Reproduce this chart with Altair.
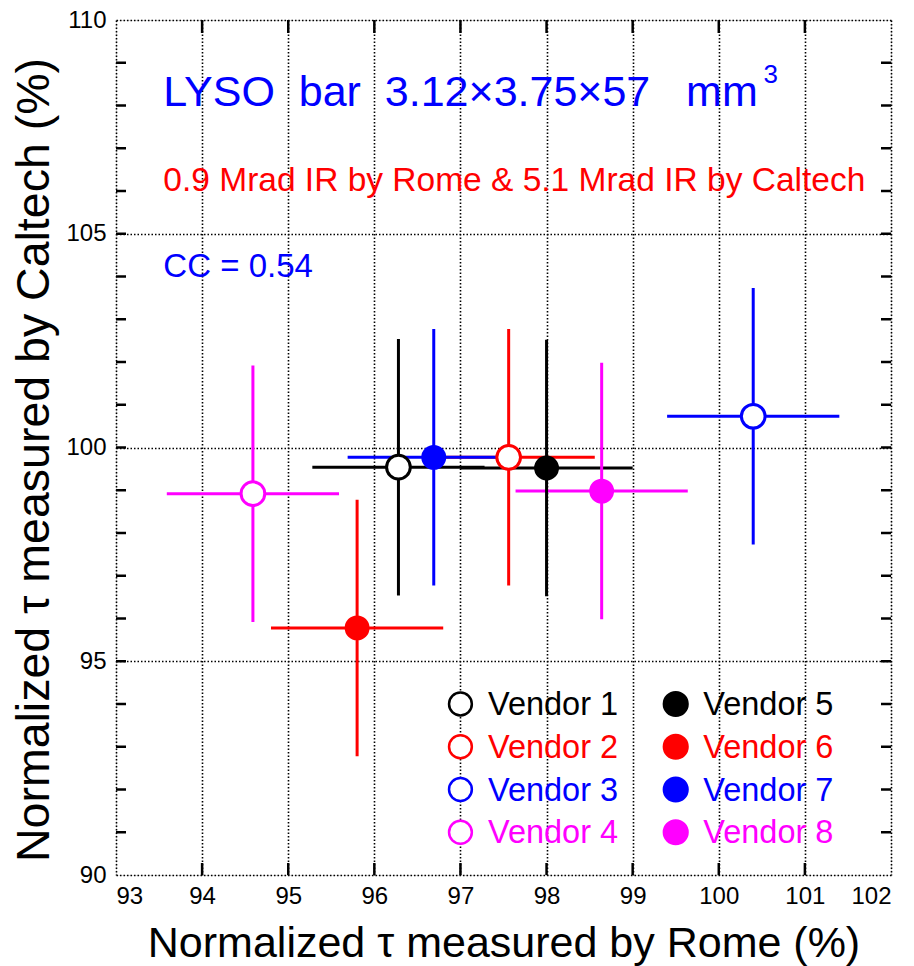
import altair as alt
import pandas as pd

# Normalized decay time of LYSO bars after irradiation, per vendor
vendors = ["Vendor 1", "Vendor 2", "Vendor 3", "Vendor 4",
           "Vendor 5", "Vendor 6", "Vendor 7", "Vendor 8"]
rome = [96.28, 97.56, 100.40, 94.59, 98.00, 95.80, 96.69, 98.64]
caltech = [99.54, 99.77, 100.73, 98.92, 99.52, 95.78, 99.77, 98.98]
rome_err = [1.0, 1.0, 1.0, 1.0, 1.0, 1.0, 1.0, 1.0]
caltech_err = [3.0, 3.0, 3.0, 3.0, 3.0, 3.0, 3.0, 3.0]
colors = ["#000000", "#ff0000", "#0000ff", "#ff00ff",
          "#000000", "#ff0000", "#0000ff", "#ff00ff"]
filled = [False, False, False, False, True, True, True, True]

# legend placement (data units)
legend_x = [97.0, 97.0, 97.0, 97.0, 99.5, 99.5, 99.5, 99.5]
legend_y = [94.0, 93.0, 92.0, 91.0, 94.0, 93.0, 92.0, 91.0]
legend_text_offset = 0.32

# annotations (non-breaking spaces keep the wide gaps)
NB = "\u00a0"
notes = ["LYSO" + NB * 2 + "bar" + NB * 2 + "3.12\u00d73.75\u00d757" + NB * 3 + "mm",
         "3",
         "0.9 Mrad IR by Rome & 5.1 Mrad IR by Caltech",
         "CC = 0.54"]
note_x = [93.55, 100.52, 93.55, 93.55]
note_y = [108.0, 108.53, 106.0, 104.0]
note_size = [43, 26, 33.5, 33]
note_color = ["#0000ff", "#0000ff", "#ff0000", "#0000ff"]

x_ticks = list(range(93, 103))
y_labels = [90, 95, 100, 105, 110]
x_minor = list(range(94, 102))
y_minor = list(range(91, 110))

W, H = 775, 855
FONT = "Liberation Sans"

df = pd.DataFrame({
    "vendor": vendors, "rome": rome, "caltech": caltech,
    "color": colors,
    "fill": [c if f else "#ffffff" for c, f in zip(colors, filled)],
    "msize": [480 if f else 560 for f in filled],
})
df["x_lo"] = [v - e for v, e in zip(rome, rome_err)]
df["x_hi"] = [v + e for v, e in zip(rome, rome_err)]
df["y_lo"] = [v - e for v, e in zip(caltech, caltech_err)]
df["y_hi"] = [v + e for v, e in zip(caltech, caltech_err)]

leg = pd.DataFrame({
    "vendor": vendors, "lx": legend_x, "ly": legend_y,
    "tx": [v + legend_text_offset for v in legend_x],
    "color": colors,
    "fill": [c if f else "#ffffff" for c, f in zip(colors, filled)],
    "msize": [560 if f else 520 for f in filled],
})

notes_df = pd.DataFrame({"text": notes, "x": note_x, "y": note_y,
                         "size": note_size, "color": note_color})

xs = alt.Scale(domain=[93, 102], nice=False, zero=False)
ys = alt.Scale(domain=[90, 110], nice=False, zero=False)

x_axis = alt.Axis(values=x_ticks, format="d", labelOverlap=False, labelBound=False,
                  grid=True, gridDash=[1.5, 2], gridColor="#000000",
                  gridWidth=1.6, gridOpacity=1, ticks=False, domain=False,
                  labelFont=FONT, labelFontSize=24, labelColor="#000000",
                  labelPadding=9, title="Normalized \u03c4 measured by Rome (%)",
                  titleFont=FONT, titleFontSize=43, titleFontWeight="normal",
                  titleColor="#000000", titleY=81, titleBaseline="alphabetic")
y_axis = alt.Axis(values=y_labels, format="d", labelOverlap=False, labelBound=False,
                  grid=True, gridDash=[1.5, 2], gridColor="#000000",
                  gridWidth=1.6, gridOpacity=1, ticks=False, domain=False,
                  labelFont=FONT, labelFontSize=24, labelColor="#000000",
                  labelPadding=10, title="Normalized \u03c4 measured by Caltech (%)",
                  titleFont=FONT, titleFontSize=46.5, titleFontWeight="normal",
                  titleColor="#000000", titleX=-68, titleY=H / 2 + 12,
                  titleBaseline="alphabetic", titleAngle=-90)

base = alt.Chart(df)

# empty-mark layer that carries the axes and gridlines
frame = alt.Chart(pd.DataFrame({"x": [93], "y": [90]})).mark_point(opacity=0).encode(
    x=alt.X("x:Q", scale=xs, axis=x_axis),
    y=alt.Y("y:Q", scale=ys, axis=y_axis),
)

xbars = base.mark_rule(strokeWidth=3).encode(
    x=alt.X("x_lo:Q", scale=xs), x2="x_hi:Q",
    y=alt.Y("caltech:Q", scale=ys),
    color=alt.Color("color:N", scale=None),
)
ybars = base.mark_rule(strokeWidth=3).encode(
    x=alt.X("rome:Q", scale=xs),
    y=alt.Y("y_lo:Q", scale=ys), y2="y_hi:Q",
    color=alt.Color("color:N", scale=None),
)
points = base.mark_point(shape="circle", filled=True, strokeWidth=3, opacity=1).encode(
    x=alt.X("rome:Q", scale=xs),
    y=alt.Y("caltech:Q", scale=ys),
    fill=alt.Fill("fill:N", scale=None),
    stroke=alt.Stroke("color:N", scale=None),
    size=alt.Size("msize:Q", scale=None),
)

# inward tick marks on all four sides
xt = alt.Chart(pd.DataFrame({"v": x_minor}))
yt = alt.Chart(pd.DataFrame({"v": y_minor}))
tick_style = dict(color="#000000", strokeWidth=2.5)
ticks = alt.layer(
    xt.mark_rule(**tick_style).encode(x=alt.X("v:Q", scale=xs), y=alt.value(0), y2=alt.value(13)),
    xt.mark_rule(**tick_style).encode(x=alt.X("v:Q", scale=xs), y=alt.value(H - 12), y2=alt.value(H)),
    yt.mark_rule(**tick_style).encode(y=alt.Y("v:Q", scale=ys), x=alt.value(0), x2=alt.value(10)),
    yt.mark_rule(**tick_style).encode(y=alt.Y("v:Q", scale=ys), x=alt.value(W - 10), x2=alt.value(W)),
)

lg = alt.Chart(leg)
leg_marks = lg.mark_point(shape="circle", filled=True, strokeWidth=2.5, opacity=1).encode(
    x=alt.X("lx:Q", scale=xs), y=alt.Y("ly:Q", scale=ys),
    fill=alt.Fill("fill:N", scale=None),
    stroke=alt.Stroke("color:N", scale=None),
    size=alt.Size("msize:Q", scale=None),
)
leg_text = lg.mark_text(align="left", baseline="middle", font=FONT, fontSize=32.5, dy=1).encode(
    x=alt.X("tx:Q", scale=xs), y=alt.Y("ly:Q", scale=ys),
    text="vendor:N",
    color=alt.Color("color:N", scale=None),
)

note_layer = alt.Chart(notes_df).mark_text(align="left", baseline="alphabetic", font=FONT).encode(
    x=alt.X("x:Q", scale=xs), y=alt.Y("y:Q", scale=ys),
    text="text:N",
    size=alt.Size("size:Q", scale=None),
    color=alt.Color("color:N", scale=None),
)

chart = alt.layer(
    frame, ticks, xbars, ybars, points, leg_marks, leg_text, note_layer
).properties(
    width=W, height=H,
    autosize=alt.AutoSizeParams(type="none"),
    padding={"left": 116, "top": 20, "right": 23, "bottom": 91},
).configure_view(
    stroke="#000000", strokeWidth=3.5,
).configure(background="#ffffff")

chart.save("out.html", embed_options={"renderer": "svg", "actions": False})
